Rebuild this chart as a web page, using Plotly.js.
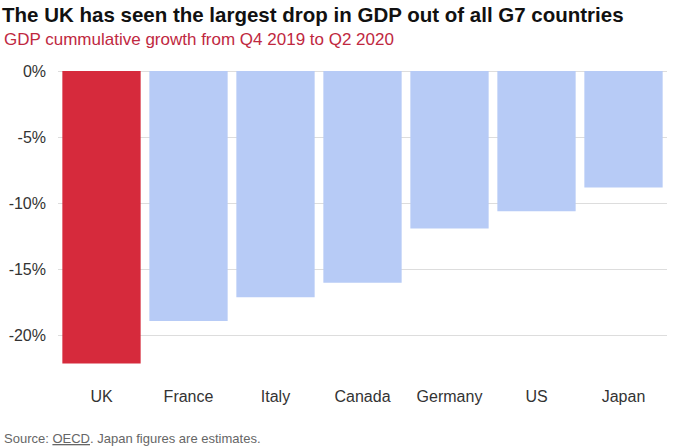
<!DOCTYPE html>
<html>
<head>
<meta charset="utf-8">
<script src="https://cdn.plot.ly/plotly-3.0.1.min.js"></script>
<style>html,body{margin:0;padding:0;background:#fff;}#chart{width:680px;height:448px;}</style>
</head>
<body>
<div id="chart"></div>
<script>
var countries = ["UK", "France", "Italy", "Canada", "Germany", "US", "Japan"];
var growth = [-22.1, -18.9, -17.1, -16.0, -11.9, -10.6, -8.8];
var yTickVals = [0, -5, -10, -15, -20];
var yTickText = ["0%", "-5%", "-10%", "-15%", "-20%"];

var colors = countries.map(function (c) { return c === "UK" ? "#d62a3c" : "#b7cbf6"; });

var trace = {
  type: "bar",
  x: countries,
  y: growth,
  marker: { color: colors, line: { width: 0 } },
  hoverinfo: "x+y"
};

var layout = {
  width: 680,
  height: 448,
  margin: { l: 58, r: 13, t: 71, b: 70 },
  paper_bgcolor: "#fff",
  plot_bgcolor: "#fff",
  bargap: 0.1,
  showlegend: false,
  font: { family: "Liberation Sans, Arial, sans-serif", color: "#333", size: 16 },
  title: {
    text: "<b>The UK has seen the largest drop in GDP out of all G7 countries</b>",
    font: { family: "Liberation Sans, Arial, sans-serif", size: 20.5, color: "#111" },
    xref: "container", x: 0.003, xanchor: "left",
    yref: "container", y: 1 - 15 / 448, yanchor: "middle"
  },
  xaxis: {
    type: "category",
    showgrid: false,
    zeroline: false,
    showline: false,
    ticks: "",
    ticklabelstandoff: 7,
    tickfont: { size: 16, color: "#333" }
  },
  yaxis: {
    range: [-23.2, 0],
    tickvals: yTickVals,
    ticktext: yTickText,
    showgrid: true,
    gridcolor: "#dddddd",
    gridwidth: 1,
    zeroline: true,
    zerolinecolor: "#dddddd",
    zerolinewidth: 1,
    showline: false,
    ticks: "",
    ticklabelstandoff: 11,
    tickfont: { size: 16, color: "#333" },
    fixedrange: true
  },
  annotations: [
    {
      text: "GDP cummulative growth from Q4 2019 to Q2 2020",
      xref: "paper", yref: "paper",
      x: (2 - 58) / 609, xanchor: "left",
      y: 1 + (71 - 40) / 307, yanchor: "middle",
      showarrow: false,
      font: { family: "Liberation Sans, Arial, sans-serif", size: 17, color: "#c0283f" }
    },
    {
      text: "Source: <u>OECD</u>. Japan figures are estimates.",
      xref: "paper", yref: "paper",
      x: (2 - 58) / 609, xanchor: "left",
      y: -(438 - 378) / 307, yanchor: "middle",
      showarrow: false,
      font: { family: "Liberation Sans, Arial, sans-serif", size: 13, color: "#666" }
    }
  ]
};

Plotly.newPlot("chart", [trace], layout, { displayModeBar: false, staticPlot: true });
</script>
</body>
</html>
